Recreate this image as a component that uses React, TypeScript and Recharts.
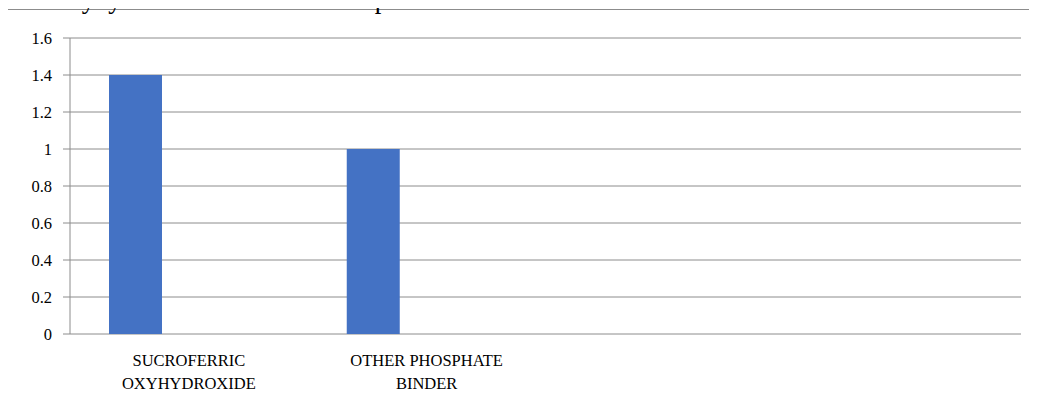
import { BarChart, Bar, XAxis, YAxis, CartesianGrid } from "recharts";

// ---------------------------------------------------------------------------
// Data
// ---------------------------------------------------------------------------

const CATEGORIES = ["SUCROFERRIC OXYHYDROXIDE", "OTHER PHOSPHATE BINDER", "", ""];
const SERIES_1 = [1.4, 1, null, null];
const SERIES_2 = [null, null, null, null];
const SERIES_3 = [null, null, null, null];
const Y_TICKS = [0, 0.2, 0.4, 0.6, 0.8, 1, 1.2, 1.4, 1.6];
const FRAME_TICKS = [0, 1, 2, 3, 4];
const TITLE = "SucroferricOxyhydroxide V/S Other Phosphate Binder";

const rows = CATEGORIES.map((name, i) => ({
  name,
  s1: SERIES_1[i],
  s2: SERIES_2[i],
  s3: SERIES_3[i],
}));

// ---------------------------------------------------------------------------
// Style tokens
// ---------------------------------------------------------------------------

const FONT = "Liberation Serif, Times New Roman, DejaVu Serif, serif";
const GRID = "#8c8c8c";
const BAR = "#4472c4";
const TICK_STYLE = { fontSize: 16.5, fill: "#000", fontFamily: FONT };

// Two-line category label: last word goes on the second line
function CategoryTick(props: any) {
  const { x, y, payload } = props;
  const words = String(payload.value).split(" ");
  const lines =
    words.length > 1 ? [words.slice(0, -1).join(" "), words[words.length - 1]] : words;
  return (
    <text x={x} y={y} textAnchor="middle" fontFamily={FONT} fontSize={16.5} fill="#000">
      {lines.map((l, i) => (
        <tspan key={i} x={x} dy={i === 0 ? 24 : 23}>
          {l}
        </tspan>
      ))}
    </text>
  );
}

export default function App() {
  return (
    <div
      style={{
        position: "relative",
        width: 1037,
        height: 405,
        margin: -8,
        overflow: "hidden",
        background: "#fff",
        fontFamily: FONT,
      }}
    >
      <div
        style={{
          position: "absolute",
          left: 7,
          top: 9,
          width: 1100,
          height: 500,
          border: `1px solid ${GRID}`,
        }}
      />
      <svg width={1037} height={405} style={{ position: "absolute", left: 0, top: 0 }}>
        <text x={511} y={8} textAnchor="end" fontSize={26.5} fontFamily={FONT} fill="#000">
          {TITLE}
        </text>
      </svg>
      <div style={{ position: "absolute", left: 0, top: 0 }}>
        <BarChart
          width={1037}
          height={405}
          data={rows}
          margin={{ top: 38, right: 16, bottom: 0, left: 0 }}
          barGap={0}
          barSize={53}
          style={{ fontFamily: FONT }}
        >
          <CartesianGrid vertical={false} stroke={GRID} strokeWidth={1} />
          <XAxis
            xAxisId="frame"
            type="number"
            domain={[0, 4]}
            ticks={FRAME_TICKS}
            tick={false}
            tickSize={7}
            axisLine={{ stroke: GRID }}
            tickLine={{ stroke: GRID }}
            height={0}
          />
          <XAxis
            xAxisId="cat"
            dataKey="name"
            axisLine={false}
            tickLine={false}
            tick={<CategoryTick />}
            height={71}
            interval={0}
          />
          <YAxis
            domain={[0, 1.6]}
            ticks={Y_TICKS}
            width={70}
            tick={TICK_STYLE}
            tickSize={7}
            tickMargin={11}
            tickFormatter={(v) => String(v)}
            axisLine={{ stroke: GRID }}
            tickLine={{ stroke: GRID }}
          />
          <Bar xAxisId="cat" dataKey="s1" fill={BAR} isAnimationActive={false} />
          <Bar xAxisId="cat" dataKey="s2" fill="#ed7d31" isAnimationActive={false} />
          <Bar xAxisId="cat" dataKey="s3" fill="#a5a5a5" isAnimationActive={false} />
        </BarChart>
      </div>
    </div>
  );
}
